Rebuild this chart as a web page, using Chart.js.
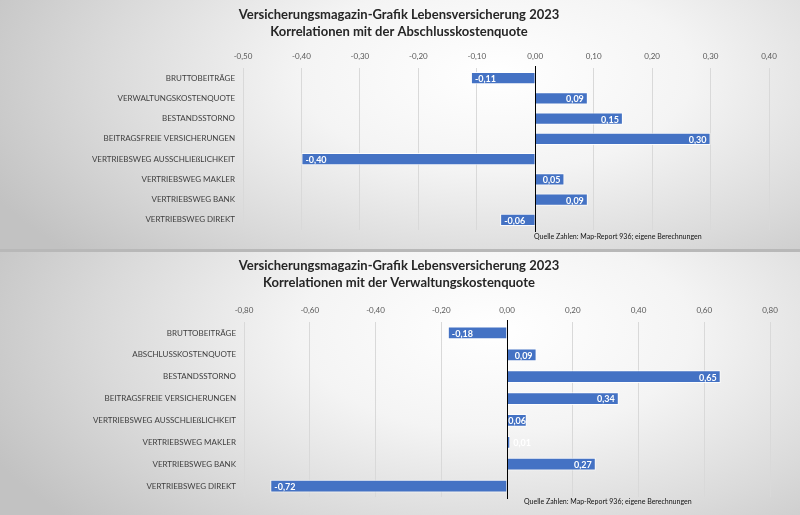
<!DOCTYPE html>
<html>
<head>
<meta charset="utf-8">
<script src="https://cdn.jsdelivr.net/npm/chart.js@4.4.1/dist/chart.umd.min.js"></script>
<style>
  html, body { margin: 0; padding: 0; }
  body { width: 800px; height: 515px; background: #b8b8b8; position: relative; overflow: hidden; }
  .panel {
    position: absolute; left: 0; width: 800px;
    background: radial-gradient(ellipse 70% 110% at 62% 30%, #ffffff 0%, #f4f4f4 35%, #dadada 70%, #c2c2c2 100%);
  }
  #p1 { top: 0; height: 249px; }
  #p2 { top: 252px; height: 263px; }
  canvas { display: block; }
</style>
</head>
<body>
<div class="panel" id="p1"><canvas id="c1" width="800" height="249"></canvas></div>
<div class="panel" id="p2"><canvas id="c2" width="800" height="263"></canvas></div>
<script>
const titleTop = 'Versicherungsmagazin-Grafik Lebensversicherung 2023';
const subtitle1 = 'Korrelationen mit der Abschlusskostenquote';
const subtitle2 = 'Korrelationen mit der Verwaltungskostenquote';
const source = 'Quelle Zahlen: Map-Report 936; eigene Berechnungen';

const labels1 = ['BRUTTOBEITRÄGE', 'VERWALTUNGSKOSTENQUOTE', 'BESTANDSSTORNO', 'BEITRAGSFREIE VERSICHERUNGEN',
  'VERTRIEBSWEG AUSSCHLIEßLICHKEIT', 'VERTRIEBSWEG MAKLER', 'VERTRIEBSWEG BANK', 'VERTRIEBSWEG DIREKT'];
const values1 = [-0.11, 0.09, 0.15, 0.30, -0.40, 0.05, 0.09, -0.06];
const ticks1 = [-0.5, -0.4, -0.3, -0.2, -0.1, 0, 0.1, 0.2, 0.3, 0.4];

const labels2 = ['BRUTTOBEITRÄGE', 'ABSCHLUSSKOSTENQUOTE', 'BESTANDSSTORNO', 'BEITRAGSFREIE VERSICHERUNGEN',
  'VERTRIEBSWEG AUSSCHLIEßLICHKEIT', 'VERTRIEBSWEG MAKLER', 'VERTRIEBSWEG BANK', 'VERTRIEBSWEG DIREKT'];
const values2 = [-0.18, 0.09, 0.65, 0.34, 0.06, 0.01, 0.27, -0.72];
const ticks2 = [-0.8, -0.6, -0.4, -0.2, 0, 0.2, 0.4, 0.6, 0.8];

const FONT = 'Lato, "Open Sans", sans-serif';
const BLUE = '#4472C4';

function fmt(v) {
  return (Math.round(v * 100) / 100).toFixed(2).replace('.', ',');
}

// titles, source note, zero line and value labels
const decor = {
  id: 'decor',
  afterDatasetsDraw(chart, args, opts) {
    const ctx = chart.ctx;
    const x = chart.scales.x;
    const area = chart.chartArea;
    ctx.save();
    // zero line on top of bars
    const zx = Math.round(x.getPixelForValue(0)) + 0.5;
    ctx.strokeStyle = '#000';
    ctx.lineWidth = 1;
    ctx.beginPath();
    ctx.moveTo(zx, area.top - 2);
    ctx.lineTo(zx, area.bottom + 2);
    ctx.stroke();

    // value labels
    ctx.font = 'bold 9px ' + FONT;
    ctx.fillStyle = '#fff';
    ctx.textBaseline = 'middle';
    const meta = chart.getDatasetMeta(0);
    const vals = chart.data.datasets[0].data;
    meta.data.forEach((bar, i) => {
      const t = fmt(vals[i]);
      const w = ctx.measureText(t).width;
      const l = Math.min(bar.x, bar.base), r = Math.max(bar.x, bar.base);
      const m = Math.min(4, (r - l - w) / 2);
      if (r - l < w + 1) {
        ctx.textAlign = 'left';
        ctx.fillText(t, r + 3, bar.y + 1);
      } else if (vals[i] >= 0) {
        ctx.textAlign = 'right';
        ctx.fillText(t, r - m, bar.y + 1);
      } else {
        ctx.textAlign = 'left';
        ctx.fillText(t, l + m, bar.y + 1);
      }
    });

    // title
    ctx.fillStyle = '#262626';
    ctx.textAlign = 'center';
    ctx.font = 'bold 13px ' + FONT;
    ctx.fillText(titleTop, 399, opts.titleY);
    ctx.fillText(opts.subtitle, 399, opts.titleY + 17);

    // source
    ctx.fillStyle = '#111';
    ctx.font = '7px ' + FONT;
    ctx.textAlign = 'left';
    ctx.fillText(source, opts.srcX, area.bottom + opts.srcDy);
    ctx.restore();
  }
};

function makeChart(id, labels, values, ticks, cfg) {
  return new Chart(document.getElementById(id), {
    type: 'bar',
    data: {
      labels: labels,
      datasets: [{
        data: values,
        backgroundColor: BLUE,
        borderColor: 'rgba(255,255,255,0.85)',
        borderWidth: 1,
        barPercentage: cfg.barPct,
        categoryPercentage: 1
      }]
    },
    options: {
      indexAxis: 'y',
      responsive: false,
      animation: false,
      devicePixelRatio: 1,
      layout: { padding: { top: cfg.padTop, right: cfg.padRight, bottom: cfg.padBottom, left: 0 } },
      plugins: {
        legend: { display: false },
        tooltip: { enabled: false },
        title: { display: false },
        decor: { titleY: cfg.titleY, subtitle: cfg.subtitle, srcX: cfg.srcX, srcDy: cfg.srcDy }
      },
      scales: {
        x: {
          position: 'top',
          min: ticks[0],
          max: ticks[ticks.length - 1],
          afterBuildTicks(axis) { axis.ticks = ticks.map(v => ({ value: v })); },
          afterFit(axis) { axis.height = 20; },
          grid: { color: '#d9d9d9', drawTicks: false, lineWidth: 1 },
          border: { display: false },
          ticks: {
            padding: 7,
            color: '#595959',
            font: { family: FONT, size: 8 },
            callback: v => fmt(v)
          }
        },
        y: {
          afterFit(axis) { axis.width = cfg.left; },
          grid: { display: false },
          border: { display: false },
          ticks: {
            padding: 0,
            color: '#404040',
            font: { family: FONT, size: 8 }
          }
        }
      }
    },
    plugins: [decor]
  });
}

makeChart('c1', labels1, values1, ticks1, {
  padTop: 48, padRight: 31, padBottom: 19, left: 243, barPct: 0.6,
  titleY: 15, subtitle: subtitle1, srcX: 534, srcDy: 7
});
makeChart('c2', labels2, values2, ticks2, {
  padTop: 50, padRight: 30, padBottom: 18, left: 244, barPct: 0.58,
  titleY: 14, subtitle: subtitle2, srcX: 524, srcDy: 5
});
</script>
</body>
</html>
